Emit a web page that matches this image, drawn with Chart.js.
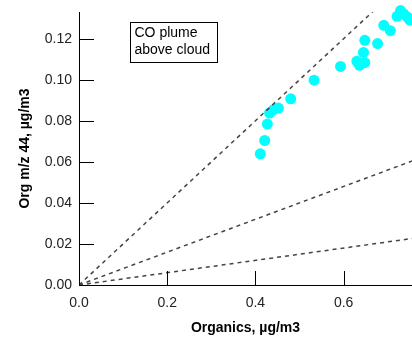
<!DOCTYPE html>
<html>
<head>
<meta charset="utf-8">
<script src="https://cdn.jsdelivr.net/npm/chart.js@4/dist/chart.umd.min.js"></script>
<style>
  body { margin: 0; background: #fff; }
  #wrap { width: 412px; height: 338px; }
</style>
</head>
<body>
<div id="wrap"><canvas id="orgChart" width="412" height="338"></canvas></div>
<script>
// Organics vs m/z 44 measurements
var organics = [0.411, 0.421, 0.427, 0.432, 0.441, 0.452, 0.480, 0.533, 0.593, 0.630, 0.636, 0.648, 0.645, 0.648, 0.677, 0.691, 0.706, 0.721, 0.729, 0.736, 0.744, 0.750];
var mz44 = [0.0639, 0.0704, 0.0784, 0.0838, 0.0854, 0.0862, 0.0907, 0.0998, 0.1065, 0.1090, 0.1070, 0.1083, 0.1133, 0.1192, 0.1176, 0.1265, 0.1239, 0.1309, 0.1337, 0.1322, 0.1306, 0.1290];

// reference ratio lines (f44 slopes) drawn from the origin
var refSlopes = [0.2, 0.08, 0.03];
var refX = [0, 0.8];

var xTicks = [0, 0.2, 0.4, 0.6];
var yTicks = [0, 0.02, 0.04, 0.06, 0.08, 0.10, 0.12];

var noteLines = ['CO plume', 'above cloud'];

var FONT = "'Liberation Sans', Arial, sans-serif";

var scatterPts = organics.map(function (x, i) { return { x: x, y: mz44[i] }; });

var datasets = refSlopes.map(function (s) {
    return {
        type: 'line',
        data: refX.map(function (x) { return { x: x, y: s * x }; }),
        borderColor: '#444',
        borderWidth: 1.5,
        borderDash: [4, 4],
        pointRadius: 0,
        fill: false,
        order: 0
    };
});
datasets.push({
    type: 'scatter',
    data: scatterPts,
    backgroundColor: '#00ffff',
    borderColor: '#00ffff',
    borderWidth: 0,
    pointRadius: 5.5,
    clip: false,
    order: 1
});

// inward tick marks + the text box
var extras = {
    id: 'extras',
    afterDatasetsDraw: function (chart) {
        var ctx = chart.ctx;
        var area = chart.chartArea;
        var xs = chart.scales.x, ys = chart.scales.y;
        ctx.save();
        ctx.strokeStyle = '#000';
        ctx.lineWidth = 1;
        ctx.beginPath();
        xTicks.forEach(function (v) {
            var px = Math.round(xs.getPixelForValue(v)) + 0.5;
            ctx.moveTo(px, area.bottom);
            ctx.lineTo(px, area.bottom - 14);
        });
        yTicks.forEach(function (v) {
            var py = Math.round(ys.getPixelForValue(v)) + 0.5;
            ctx.moveTo(area.left, py);
            ctx.lineTo(area.left + 15, py);
        });
        ctx.stroke();

        var bx = area.left + 51.5, by = area.top + 10.5;
        ctx.fillStyle = '#fff';
        ctx.fillRect(bx, by, 87, 40);
        ctx.strokeRect(bx, by, 87, 40);
        ctx.fillStyle = '#000';
        ctx.font = '14px ' + FONT;
        ctx.textBaseline = 'middle';
        ctx.fillText(noteLines[0], bx + 4, by + 11);
        ctx.fillText(noteLines[1], bx + 4, by + 28);
        ctx.restore();
    }
};

var ctx = document.getElementById('orgChart').getContext('2d');
new Chart(ctx, {
    data: { datasets: datasets },
    plugins: [extras],
    options: {
        responsive: false,
        animation: false,
        layout: { autoPadding: false, padding: { top: 12, right: 0, left: 0, bottom: 0 } },
        plugins: { legend: { display: false }, tooltip: { enabled: false } },
        scales: {
            x: {
                type: 'linear',
                min: 0,
                max: 0.755,
                afterBuildTicks: function (scale) {
                    scale.ticks = xTicks.map(function (v) { return { value: v }; });
                },
                afterFit: function (scale) {
                    scale.height = 53;
                    scale.paddingLeft = 0;
                    scale.paddingRight = 0;
                },
                grid: { display: false, drawTicks: false },
                border: { display: true, color: '#000', width: 1 },
                ticks: {
                    padding: 10,
                    color: '#222',
                    font: { family: FONT, size: 14 },
                    callback: function (v) { return Number(v).toFixed(1); }
                },
                title: {
                    display: true,
                    text: 'Organics, µg/m3',
                    color: '#000',
                    font: { family: FONT, size: 14, weight: 'bold' },
                    padding: { top: 0, bottom: 1 }
                }
            },
            y: {
                type: 'linear',
                min: 0,
                max: 0.133,
                afterBuildTicks: function (scale) {
                    scale.ticks = yTicks.map(function (v) { return { value: v }; });
                },
                afterFit: function (scale) {
                    scale.width = 79;
                    scale.paddingTop = 0;
                    scale.paddingBottom = 0;
                },
                grid: { display: false, drawTicks: false },
                border: { display: true, color: '#000', width: 1 },
                ticks: {
                    padding: 7,
                    color: '#222',
                    font: { family: FONT, size: 14 },
                    callback: function (v) { return Number(v).toFixed(2); }
                },
                title: {
                    display: true,
                    text: 'Org m/z 44, µg/m3',
                    color: '#000',
                    font: { family: FONT, size: 14, weight: 'bold' },
                    padding: { top: 17, bottom: 0 }
                }
            }
        }
    }
});
</script>
</body>
</html>
